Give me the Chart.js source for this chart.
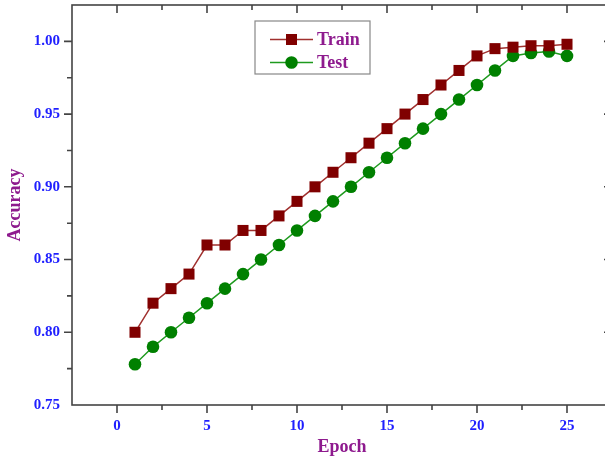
<!DOCTYPE html>
<html>
<head>
<meta charset="utf-8">
<script src="https://cdn.jsdelivr.net/npm/chart.js@4.4.0/dist/chart.umd.min.js"></script>
<style>
    html, body { margin: 0; padding: 0; background: #fff; overflow: hidden; }
    #accChart { display: block; width: 612px; height: 461px; }
</style>
</head>
<body>
<canvas id="accChart" width="612" height="461"></canvas>
<script>
// data
const epochs = [1, 2, 3, 4, 5, 6, 7, 8, 9, 10, 11, 12, 13, 14, 15, 16, 17, 18, 19, 20, 21, 22, 23, 24, 25];
const trainAcc = [0.800, 0.820, 0.830, 0.840, 0.860, 0.860, 0.870, 0.870, 0.880, 0.890, 0.900, 0.910, 0.920,
    0.930, 0.940, 0.950, 0.960, 0.970, 0.980, 0.990, 0.995, 0.996, 0.997, 0.997, 0.998];
const testAcc = [0.778, 0.790, 0.800, 0.810, 0.820, 0.830, 0.840, 0.850, 0.860, 0.870, 0.880, 0.890, 0.900,
    0.910, 0.920, 0.930, 0.940, 0.950, 0.960, 0.970, 0.980, 0.990, 0.992, 0.993, 0.990];
const xTicks = [0, 5, 10, 15, 20, 25];
const yTicks = [0.75, 0.80, 0.85, 0.90, 0.95, 1.00];
const seriesNames = ['Train', 'Test'];

const tickBlue = '#1f1fff';
const titlePurple = '#8e1a8e';
const frameColor = '#444';

// frame with ticks (outward on bottom/left, inward on top/right)
const framePlugin = {
    id: 'frame',
    beforeDatasetsDraw(chart) {
        const { ctx, chartArea: a, scales } = chart;
        const xs = scales.x, ys = scales.y;
        ctx.save();
        ctx.strokeStyle = frameColor;
        ctx.lineWidth = 1.6;
        ctx.strokeRect(a.left, a.top, a.right - a.left, a.bottom - a.top);

        function tickAt(px, horiz, len) {
            ctx.beginPath();
            if (horiz) {
                ctx.moveTo(px, a.bottom); ctx.lineTo(px, a.bottom + len);
                ctx.moveTo(px, a.top); ctx.lineTo(px, a.top + len);
            } else {
                ctx.moveTo(a.left, px); ctx.lineTo(a.left - len, px);
                ctx.moveTo(a.right, px); ctx.lineTo(a.right - len, px);
            }
            ctx.stroke();
        }
        for (let v = xs.min + 2.5; v < xs.max; v += 2.5) {
            const major = xTicks.includes(Math.round(v * 10) / 10);
            tickAt(xs.getPixelForValue(v), true, major ? 8 : 5);
        }
        for (let v = ys.min + 0.025; v < ys.max - 0.001; v += 0.025) {
            const r = Math.round(v * 1000) / 1000;
            const major = yTicks.some(t => Math.abs(t - r) < 1e-6);
            tickAt(ys.getPixelForValue(v), false, major ? 8 : 5);
        }
        ctx.restore();
    }
};

// boxed legend inside the plot
const legendPlugin = {
    id: 'boxLegend',
    afterDraw(chart) {
        const ctx = chart.ctx;
        const bx = 255, by = 21, bw = 115, bh = 53;
        ctx.save();
        ctx.fillStyle = '#fff';
        ctx.fillRect(bx, by, bw, bh);
        ctx.strokeStyle = '#888';
        ctx.lineWidth = 1.2;
        ctx.strokeRect(bx, by, bw, bh);
        chart.data.datasets.forEach((ds, i) => {
            const y = by + 18.5 + i * 23;
            ctx.strokeStyle = ds.borderColor;
            ctx.lineWidth = 1.5;
            ctx.beginPath();
            ctx.moveTo(bx + 15, y);
            ctx.lineTo(bx + 58, y);
            ctx.stroke();
            ctx.fillStyle = ds.pointBackgroundColor;
            ctx.beginPath();
            if (ds.pointStyle === 'rect') {
                ctx.rect(bx + 31, y - 5.5, 11, 11);
            } else {
                ctx.arc(bx + 36.5, y, 6.3, 0, Math.PI * 2);
            }
            ctx.fill();
            ctx.fillStyle = titlePurple;
            ctx.font = 'bold 18px "Liberation Serif", "Times New Roman", serif';
            ctx.textBaseline = 'middle';
            ctx.textAlign = 'left';
            ctx.fillText(ds.label, bx + 62, y + 1);
        });
        ctx.restore();
    }
};

document.addEventListener("DOMContentLoaded", function () {
    const canvas = document.getElementById("accChart");
    const ctx = canvas.getContext("2d");

    new Chart(ctx, {
        type: 'line',
        data: {
            datasets: [{
                label: seriesNames[0],
                data: epochs.map((e, i) => ({ x: e, y: trainAcc[i] })),
                borderColor: '#a0302e',
                borderWidth: 1.5,
                pointStyle: 'rect',
                pointRadius: 7.8,
                pointBackgroundColor: '#800000',
                pointBorderColor: '#800000',
                pointBorderWidth: 0,
                tension: 0
            }, {
                label: seriesNames[1],
                data: epochs.map((e, i) => ({ x: e, y: testAcc[i] })),
                borderColor: '#1e9a1e',
                borderWidth: 1.5,
                pointStyle: 'circle',
                pointRadius: 6.3,
                pointBackgroundColor: '#008000',
                pointBorderColor: '#008000',
                pointBorderWidth: 0,
                tension: 0
            }]
        },
        options: {
            responsive: false,
            animation: false,
            layout: { autoPadding: false, padding: { left: 0, top: 5, right: 0, bottom: 0 } },
            plugins: {
                legend: { display: false },
                tooltip: { enabled: false }
            },
            scales: {
                x: {
                    type: 'linear',
                    min: -2.5,
                    max: 27.5,
                    afterBuildTicks: (s) => { s.ticks = xTicks.map(v => ({ value: v })); },
                    afterFit: (s) => { s.height = 56; s.paddingLeft = 0; s.paddingRight = 0; },
                    grid: { display: false, drawTicks: false },
                    border: { display: false },
                    ticks: {
                        color: tickBlue,
                        padding: 12,
                        maxRotation: 0,
                        font: { family: '"Liberation Serif", "Times New Roman", serif', size: 15, weight: 'bold' }
                    },
                    title: {
                        display: true,
                        text: 'Epoch',
                        color: titlePurple,
                        padding: { top: 0, bottom: 3 },
                        font: { family: '"Liberation Serif", "Times New Roman", serif', size: 18, weight: 'bold' }
                    }
                },
                y: {
                    min: 0.75,
                    max: 1.025,
                    afterBuildTicks: (s) => { s.ticks = yTicks.map(v => ({ value: v })); },
                    afterFit: (s) => { s.width = 72; s.paddingTop = 0; s.paddingBottom = 0; },
                    grid: { display: false, drawTicks: false },
                    border: { display: false },
                    ticks: {
                        color: tickBlue,
                        padding: 12,
                        callback: (v) => Number(v).toFixed(2),
                        font: { family: '"Liberation Serif", "Times New Roman", serif', size: 15, weight: 'bold' }
                    },
                    title: {
                        display: true,
                        text: 'Accuracy',
                        color: titlePurple,
                        padding: { top: 5, bottom: 0 },
                        font: { family: '"Liberation Serif", "Times New Roman", serif', size: 18, weight: 'bold' }
                    }
                }
            }
        },
        plugins: [framePlugin, legendPlugin]
    });
});
</script>
</body>
</html>
